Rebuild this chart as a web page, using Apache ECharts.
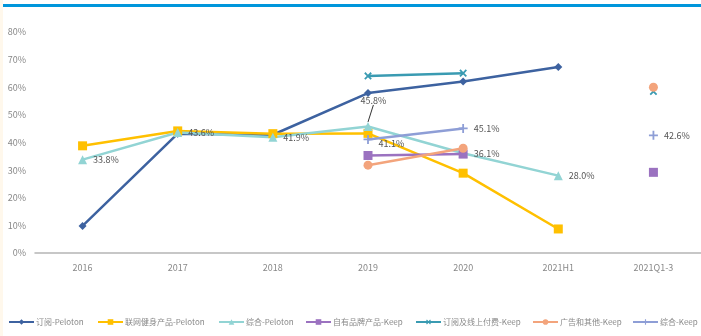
<!DOCTYPE html>
<html>
<head>
<meta charset="utf-8">
<script src="https://cdn.jsdelivr.net/npm/echarts@6/dist/echarts.min.js"></script>
<style>
  html, body { margin: 0; padding: 0; background: #ffffff; }
  #chart { width: 701px; height: 336px; }
</style>
</head>
<body>
<div id="chart"></div>
<script>
// Periods on the x axis
const categories = ['2016', '2017', '2018', '2019', '2020', '2021H1', '2021Q1-3'];

// Gross margin by business line (%)
const pelotonSubscription = [9.8, 43.2, 42.8, 57.9, 62.1, 67.3, null];
const pelotonHardware     = [38.8, 44.2, 43.2, 43.3, 28.9, 8.7, null];
const pelotonOverall      = [33.8, 43.6, 41.9, 45.8, 36.1, 28.0, null];
const keepOwnBrand        = [null, null, null, 35.3, 35.8, null, 29.2];
const keepSubscription    = [null, null, null, 64.1, 65.1, null, 58.5];
const keepAdsOther        = [null, null, null, 31.8, 37.9, null, 60.0];
const keepOverall         = [null, null, null, 41.1, 45.1, null, 42.6];

const yTicks = [0, 10, 20, 30, 40, 50, 60, 70, 80];

const FONT = "'Liberation Sans Narrow', 'Noto Sans CJK SC', sans-serif";
const PLUS = 'path://M4,0H6V4H10V6H6V10H4V6H0V4H4Z';

function lineSeries(name, data, color, symbol, size, extra) {
  return Object.assign({
    name: name,
    type: 'line',
    data: data,
    symbol: symbol,
    symbolSize: size,
    lineStyle: { width: 2.5, color: color },
    itemStyle: { color: color },
    emphasis: { disabled: true },
    animation: false
  }, extra || {});
}

const labelStyle = {
  show: true,
  position: 'right',
  distance: 6,
  fontFamily: FONT,
  fontSize: 9,
  color: '#555',
  formatter: p => p.value == null ? '' : p.value.toFixed(1) + '%'
};

const series = [
  lineSeries('订阅-Peloton', pelotonSubscription, '#3D62A0', 'diamond', 8),
  lineSeries('联网健身产品-Peloton', pelotonHardware, '#FFC000', 'rect', 9),
  lineSeries('综合-Peloton', pelotonOverall.map((v, i) => i === 3
      ? { value: v, labelLine: { show: true, lineStyle: { color: '#333', width: 1 } } }
      : v),
    '#92D4D4', 'triangle', 9, {
      label: Object.assign({}, labelStyle, { offset: [0, 2] }),
      labelLayout: p => p.dataIndex === 3 ? { dx: -18, dy: -26 } : {},
      labelLine: { show: false }
    }),
  lineSeries('自有品牌产品-Keep', keepOwnBrand, '#9B72C0', 'rect', 9),
  lineSeries('订阅及线上付费-Keep', keepSubscription, '#3A9BB2', PLUS, 9, { symbolRotate: 45 }),
  lineSeries('广告和其他-Keep', keepAdsOther, '#F3A47C', 'circle', 9),
  lineSeries('综合-Keep', keepOverall, '#8E9ED6', PLUS, 9, {
    label: Object.assign({}, labelStyle),
    labelLayout: p => p.dataIndex === 3 ? { dy: 4 } : {}
  })
];

// One legend block per series so each entry sits at its own spot
const legendLeft = [8, 97, 218, 305, 415, 532, 632];
const legends = series.map((s, i) => ({
  data: [s.name],
  left: legendLeft[i],
  top: 318,
  padding: 0,
  itemWidth: 25,
  itemHeight: 7,
  itemGap: 0,
  textStyle: { fontFamily: FONT, fontSize: 8, color: '#888', padding: [0, 0, 0, -3] },
  selectedMode: false
}));

const chart = echarts.init(document.getElementById('chart'), null, { renderer: 'canvas' });
chart.setOption({
  backgroundColor: '#ffffff',
  animation: false,
  graphic: [
    { type: 'rect', left: 0, top: 0, shape: { width: 3, height: 336 }, style: { fill: '#FFF8EC' }, silent: true },
    { type: 'rect', left: 3, top: 4, shape: { width: 698, height: 3 }, style: { fill: '#0096DB' }, silent: true }
  ],
  legend: legends,
  grid: { left: 35, right: -2, top: 32, bottom: 83 },
  xAxis: {
    type: 'category',
    data: categories,
    boundaryGap: true,
    axisLine: { show: true, lineStyle: { color: '#B5B5B5', width: 1.5 } },
    axisTick: { show: false },
    axisLabel: { fontFamily: FONT, fontSize: 9, color: '#888', margin: 10 }
  },
  yAxis: {
    type: 'value',
    min: yTicks[0],
    max: yTicks[yTicks.length - 1],
    interval: 10,
    axisLine: { show: false },
    axisTick: { show: false },
    splitLine: { show: false },
    axisLabel: { fontFamily: FONT, fontSize: 9, color: '#888', margin: 9, formatter: '{value}%' }
  },
  series: series
});
</script>
</body>
</html>
